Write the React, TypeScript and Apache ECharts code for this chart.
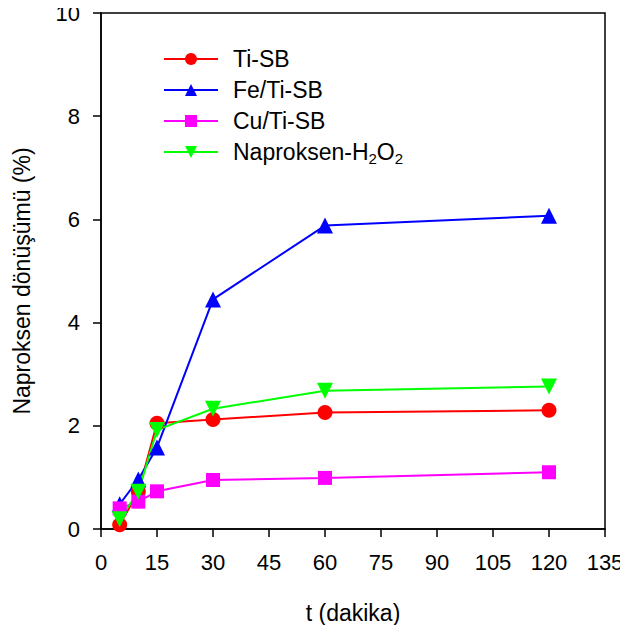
import React, { useEffect, useRef } from "react";
import * as echarts from "echarts";

const times = [5, 10, 15, 30, 60, 120];
const tiSB = [0.08, 0.72, 2.05, 2.12, 2.26, 2.3];
const feTiSB = [0.48, 0.96, 1.58, 4.45, 5.88, 6.07];
const cuTiSB = [0.4, 0.53, 0.73, 0.95, 0.99, 1.1];
const naprH2O2 = [0.19, 0.72, 1.92, 2.33, 2.68, 2.76];
const seriesNames = ["Ti-SB", "Fe/Ti-SB", "Cu/Ti-SB", "Naproksen-H2O2"];

const FONT = "'Liberation Sans', Arial, Helvetica, sans-serif";
const FS_TICK = 22;
const FS_NAME = 23;

export default function App() {
  const ref = useRef<HTMLDivElement>(null);
  useEffect(() => {
    if (!ref.current) return;
    const chart = echarts.init(ref.current, undefined, { renderer: "svg" });
    const pair = (ys: number[]) => times.map((t, i) => [t, ys[i]]);
    const mk = (name: string, ys: number[], color: string, symbol: string, size: number, rot = 0) => ({
      name,
      type: "line",
      data: pair(ys),
      symbol,
      symbolSize: size,
      symbolRotate: rot,
      lineStyle: { color, width: 2 },
      itemStyle: { color },
      z: 2,
    });
    const axisCommon = {
      nameLocation: "middle",
      axisLine: { show: true, lineStyle: { color: "#000", width: 1.5 } },
      axisTick: { show: true, inside: false, length: 8, lineStyle: { color: "#000", width: 1.5 } },
      splitLine: { show: false },
    };
    chart.setOption({
      animation: false,
      backgroundColor: "#fff",
      textStyle: { fontFamily: FONT },
      grid: {
        left: 101,
        right: 23,
        top: 13,
        bottom: 104,
        show: true,
        borderColor: "#000",
        borderWidth: 1.5,
        backgroundColor: "transparent",
      },
      legend: {
        left: 158,
        top: 42,
        orient: "vertical",
        itemWidth: 54,
        itemHeight: 15,
        itemGap: 7,
        data: seriesNames,
        textStyle: {
          fontFamily: FONT,
          fontSize: FS_NAME,
          lineHeight: 24,
          color: "#000",
          padding: [0, 0, 0, 10],
          rich: {
            a: { fontFamily: FONT, fontSize: FS_NAME, lineHeight: 24, color: "#000" },
            s: { fontFamily: FONT, fontSize: 15, color: "#000", padding: [12, 0, 0, 0] },
          },
        },
        formatter: (name: string) =>
          name === "Naproksen-H2O2" ? "{a|Naproksen-H}{s|2}{a|O}{s|2}" : name,
      },
      xAxis: {
        ...axisCommon,
        type: "value",
        min: 0,
        max: 135,
        interval: 15,
        name: "t (dakika)",
        nameGap: 72,
        nameTextStyle: { fontFamily: FONT, fontSize: FS_NAME, color: "#000" },
        axisLabel: { fontFamily: FONT, fontSize: FS_TICK, color: "#000", margin: 22 },
      },
      yAxis: {
        ...axisCommon,
        type: "value",
        min: 0,
        max: 10,
        interval: 2,
        name: "Naproksen dönüşümü (%)",
        nameGap: 68,
        nameTextStyle: { fontFamily: FONT, fontSize: FS_NAME, color: "#000", padding: [0, 20, 0, 0] },
        axisLabel: { fontFamily: FONT, fontSize: FS_TICK, color: "#000", margin: 21 },
      },
      series: [
        mk(seriesNames[0], tiSB, "#ff0000", "circle", 15),
        mk(seriesNames[1], feTiSB, "#0000ff", "triangle", 16),
        mk(seriesNames[2], cuTiSB, "#ff00ff", "rect", 14),
        mk(seriesNames[3], naprH2O2, "#00ff00", "triangle", 16, 180),
      ],
    });
    return () => chart.dispose();
  }, []);
  return <div ref={ref} style={{ width: 628, height: 633, margin: -8 }} />;
}
